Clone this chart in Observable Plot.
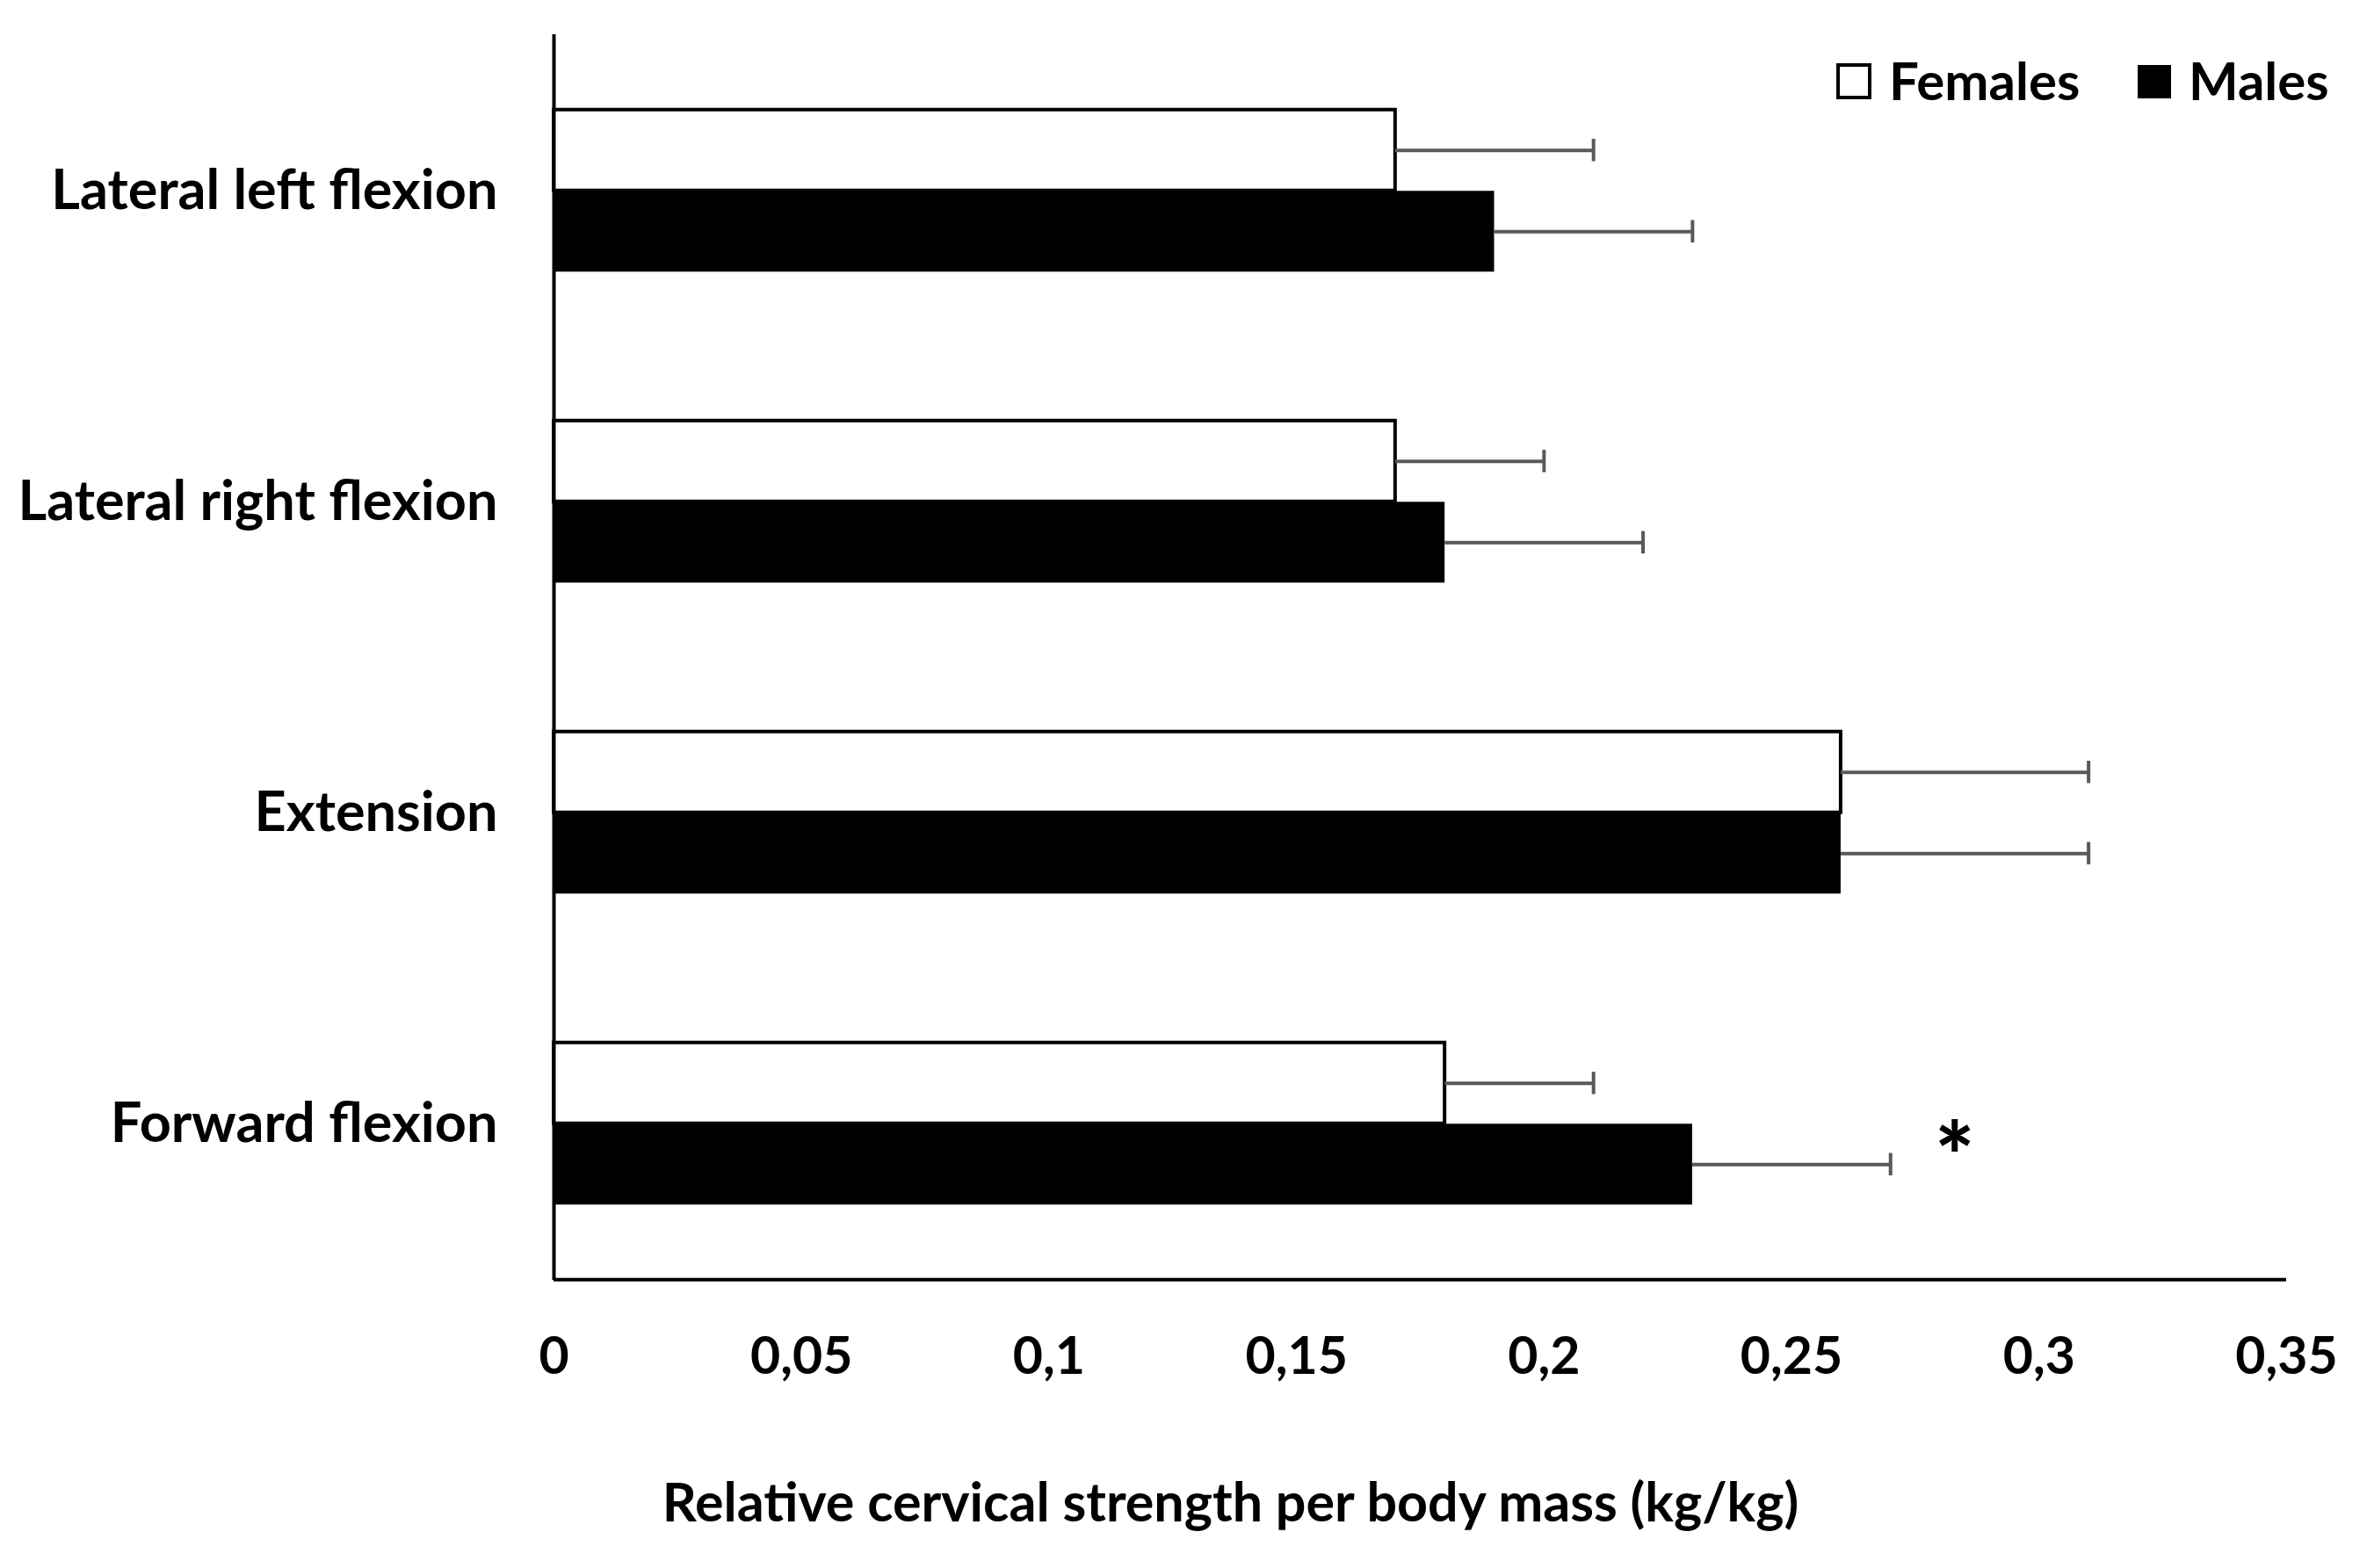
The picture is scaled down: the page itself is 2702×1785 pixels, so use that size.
<!DOCTYPE html>
<html>
<head>
<meta charset="utf-8">
<script src="https://cdn.jsdelivr.net/npm/d3@7"></script>
<script src="https://cdn.jsdelivr.net/npm/@observablehq/plot@0.6"></script>
<style>
  html, body { margin: 0; padding: 0; background: #fff; }
  #wrap { position: relative; width: 2702px; height: 1785px; font-family: Lato, "Open Sans", sans-serif; font-weight: 700; }
  #legend { position: absolute; left: 2090px; top: 0; height: 185px; }
  .lg-box { position: absolute; box-sizing: border-box; }
  .lg-text { position: absolute; font-size: 60px; line-height: 1; color: #000; white-space: nowrap; }
</style>
</head>
<body>
<div id="wrap"></div>
<script>
// ---- data ----
const categories = ["Lateral left flexion", "Lateral right flexion", "Extension", "Forward flexion"];
const femalesMean = [0.17, 0.17, 0.26, 0.18];
const femalesSD   = [0.04, 0.03, 0.05, 0.03];
const malesMean   = [0.19, 0.18, 0.26, 0.23];
const malesSD     = [0.04, 0.04, 0.05, 0.04];
const malesSignificant = [false, false, false, true];
const xTicks = [0, 0.05, 0.1, 0.15, 0.2, 0.25, 0.3, 0.35];
const xLabel = "Relative cervical strength per body mass (kg/kg)";
const seriesNames = ["Females", "Males"];

// ---- tables built from the arrays ----
const females = categories.map((c, i) => ({cat: c, mean: femalesMean[i], upper: femalesMean[i] + femalesSD[i]}));
const males = categories.map((c, i) => ({cat: c, mean: malesMean[i], upper: malesMean[i] + malesSD[i], sig: malesSignificant[i]}));

// ---- layout ----
const W = 2702, H = 1785;
const mt = 39, mb = 328, ml = 630, mr = 100;
const step = (H - mt - mb) / categories.length;
const barH = 92.5;
const half = step / 2;
const capH = 26;
const errColor = "#595959";
const fmt = d => String(d).replace(".", ",");

const chart = Plot.plot({
  width: W,
  height: H,
  marginTop: mt,
  marginBottom: mb,
  marginLeft: ml,
  marginRight: mr,
  style: {fontFamily: "Lato, 'Open Sans', sans-serif", fontWeight: 700, color: "#000", background: "#fff"},
  x: {domain: [0, 0.35]},
  y: {domain: categories, padding: 0},
  marks: [
    // male bars (lower half of each band)
    Plot.barX(males, {y: "cat", x: "mean", fill: "#000", insetTop: half, insetBottom: half - barH}),
    // female bars (upper half of each band)
    Plot.barX(females, {y: "cat", x: "mean", fill: "#fff", stroke: "#000", strokeWidth: 4, insetTop: half - barH, insetBottom: half}),
    // error bars
    Plot.ruleY(females, {y: "cat", x1: "mean", x2: "upper", dy: -barH / 2, stroke: errColor, strokeWidth: 4}),
    Plot.tickX(females, {y: "cat", x: "upper", dy: -barH / 2, insetTop: half - capH / 2, insetBottom: half - capH / 2, stroke: errColor, strokeWidth: 4}),
    Plot.ruleY(males, {y: "cat", x1: "mean", x2: "upper", dy: barH / 2, stroke: errColor, strokeWidth: 4}),
    Plot.tickX(males, {y: "cat", x: "upper", dy: barH / 2, insetTop: half - capH / 2, insetBottom: half - capH / 2, stroke: errColor, strokeWidth: 4}),
    // significance marker
    Plot.text(males.filter(d => d.sig), {y: "cat", x: "upper", text: () => "*", dx: 73, dy: 42, fontSize: 106, fontWeight: 900, fill: "#000"}),
    // axis lines
    Plot.ruleX([0], {stroke: "#000", strokeWidth: 4}),
    Plot.ruleY([categories[categories.length - 1]], {dy: half, stroke: "#000", strokeWidth: 4}),
    // axes
    Plot.axisX({ticks: xTicks, tickFormat: fmt, tickSize: 0, tickPadding: 65, fontSize: 59, label: null, fill: "#000"}),
    Plot.axisY({tickSize: 0, tickPadding: 64, fontSize: 63, label: null, fill: "#000"}),
    // x axis title
    Plot.text([xLabel], {frameAnchor: "bottom", dx: -216, dy: 274, fontSize: 61, fontWeight: 700, fill: "#000"})
  ]
});

const wrap = document.getElementById("wrap");
wrap.appendChild(chart);

// ---- legend (HTML, overlaid at top right) ----
const legend = document.createElement("div");
legend.id = "legend";
const items = [
  {name: seriesNames[0], box: {left: 0, top: 72, w: 40, h: 41, bg: "#fff", border: "4px solid #000"}, textLeft: 60},
  {name: seriesNames[1], box: {left: 343, top: 74, w: 38, h: 38, bg: "#000", border: "none"}, textLeft: 401}
];
for (const it of items) {
  const b = document.createElement("div");
  b.className = "lg-box";
  Object.assign(b.style, {left: it.box.left + "px", top: it.box.top + "px", width: it.box.w + "px", height: it.box.h + "px", background: it.box.bg, border: it.box.border});
  legend.appendChild(b);
  const t = document.createElement("div");
  t.className = "lg-text";
  t.textContent = it.name;
  Object.assign(t.style, {left: it.textLeft + "px", top: "61px"});
  legend.appendChild(t);
}
wrap.appendChild(legend);
</script>
</body>
</html>
